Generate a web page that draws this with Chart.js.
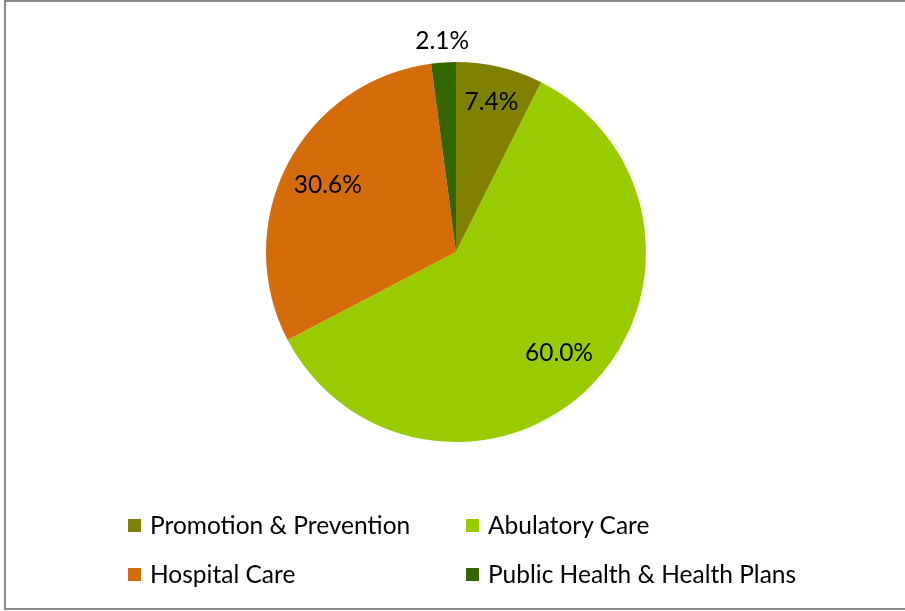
<!DOCTYPE html>
<html>
<head>
<meta charset="utf-8">
<script src="https://cdn.jsdelivr.net/npm/chart.js@4"></script>
<style>
    html, body { margin: 0; padding: 0; background: #fff; }
    #wrap { position: relative; width: 905px; height: 611px; overflow: hidden; font-family: Lato, "Open Sans", sans-serif; }
    #frame { position: absolute; left: 4px; top: 0; width: 940px; height: 610px; border: 2px solid #8a8a8a; box-sizing: border-box; }
    #chart { position: absolute; left: 0; top: 0; }
    .legend-item { position: absolute; font-size: 24.5px; color: #000; line-height: 24px; white-space: nowrap; }
    .legend-box { position: absolute; width: 13px; height: 13px; }
</style>
</head>
<body>
<div id="wrap">
    <div id="frame"></div>
    <canvas id="chart" width="905" height="611"></canvas>
    <div id="legend"></div>
</div>
<script>
// 資料
const categories = ['Promotion & Prevention', 'Abulatory Care', 'Hospital Care', 'Public Health & Health Plans'];
const shares = [7.4, 60.0, 30.6, 2.1];
const sliceColors = ['#808000', '#99cc00', '#d46c09', '#336600'];

// 在扇形上畫百分比
const sliceLabels = {
    id: 'sliceLabels',
    afterDatasetsDraw(chart) {
        const ctx = chart.ctx;
        const meta = chart.getDatasetMeta(0);
        ctx.save();
        ctx.font = '24.5px Lato, "Open Sans", sans-serif';
        ctx.fillStyle = '#000';
        ctx.textAlign = 'center';
        ctx.textBaseline = 'middle';
        meta.data.forEach((arc, i) => {
            const mid = (arc.startAngle + arc.endAngle) / 2;
            const small = shares[i] < 5;
            // 小扇形的標籤放在外面
            const r = small ? arc.outerRadius * 1.11 : arc.outerRadius * (shares[i] < 10 ? 0.81 : 0.76);
            const x = arc.x + Math.cos(mid) * r;
            const y = arc.y + Math.sin(mid) * r;
            ctx.fillText(shares[i].toFixed(1) + '%', x, y);
        });
        ctx.restore();
    }
};

new Chart(document.getElementById('chart'), {
    type: 'pie',
    data: {
        labels: categories,
        datasets: [{
            data: shares,
            backgroundColor: sliceColors,
            borderWidth: 0,
            hoverOffset: 0
        }]
    },
    options: {
        responsive: false,
        animation: false,
        layout: { padding: { left: 266, right: 259, top: 62, bottom: 169 } },
        plugins: {
            legend: { display: false },
            tooltip: { enabled: false }
        }
    },
    plugins: [sliceLabels]
});

// 兩欄圖例
const legend = document.getElementById('legend');
const colX = [128, 466];
const rowY = [519, 568];
categories.forEach((name, i) => {
    const x = colX[i % 2], y = rowY[Math.floor(i / 2)];
    const box = document.createElement('div');
    box.className = 'legend-box';
    box.style.left = x + 'px';
    box.style.top = y + 'px';
    box.style.background = sliceColors[i];
    legend.appendChild(box);
    const item = document.createElement('div');
    item.className = 'legend-item';
    item.style.left = (x + 22) + 'px';
    item.style.top = (y - 6) + 'px';
    item.textContent = name;
    legend.appendChild(item);
});
</script>
</body>
</html>
